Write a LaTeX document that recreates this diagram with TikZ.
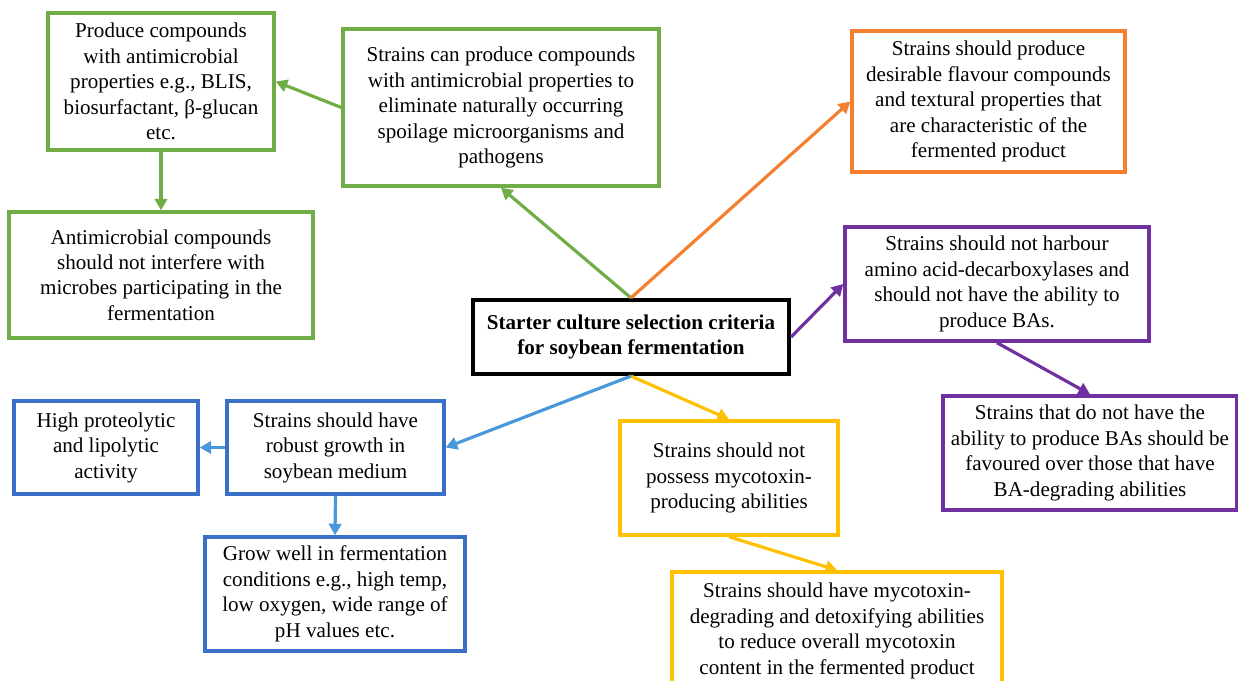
\documentclass[tikz,border=0pt]{standalone}
\usepackage{fontspec}
\setmainfont{Liberation Serif}
\usepackage{xcolor}
\usepackage{tikz}
\usetikzlibrary{arrows.meta,positioning}
\definecolor{gr}{HTML}{70AD47}
\definecolor{og}{HTML}{F47F2E}
\definecolor{pu}{HTML}{7030A0}
\definecolor{ye}{HTML}{FFC000}
\definecolor{bl}{HTML}{3A70C8}
\definecolor{bla}{HTML}{4A98DC}
\tikzset{
  box/.style={draw, line width=2pt, align=center, inner sep=2pt, font=\fontsize{12pt}{14.5pt}\selectfont},
  grbox/.style={box, draw=gr},
  ogbox/.style={box, draw=og},
  pubox/.style={box, draw=pu},
  yebox/.style={box, draw=ye},
  blbox/.style={box, draw=bl},
  link/.style={line width=1.8pt, -{Triangle[length=2.3mm,width=2.5mm]}},
}
\begin{document}
\begin{tikzpicture}[x=0.02cm,y=-0.02cm]
\useasboundingbox (0,0) rectangle (1238,680);
\clip (0,0) rectangle (1238,680);
\node[box, draw=black, line width=2.4pt, font=\fontsize{12pt}{14.5pt}\selectfont\bfseries, minimum width=6.32cm, minimum height=1.48cm] (root) at (631,337) {Starter culture selection criteria\\for soybean fermentation};
\node[grbox, minimum width=4.52cm, minimum height=2.74cm] (prod) at (161,81.5) {Produce compounds\\with antimicrobial\\properties e.g., BLIS,\\biosurfactant, β-glucan\\etc.};
\node[grbox, minimum width=6.08cm, minimum height=2.52cm] (inter) at (161,275) {Antimicrobial compounds\\should not interfere with\\microbes participating in the\\fermentation};
\node[grbox, minimum width=6.32cm, minimum height=3.14cm] (anti) at (501,107.5) {Strains can produce compounds\\with antimicrobial properties to\\eliminate naturally occurring\\spoilage microorganisms and\\pathogens};
\node[ogbox, minimum width=5.46cm, minimum height=2.82cm] (flav) at (988.5,101.5) {Strains should produce\\desirable flavour compounds\\and textural properties that\\are characteristic of the\\fermented product};
\node[pubox, minimum width=6.08cm, minimum height=2.28cm] (decarb) at (997,284) {Strains should not harbour\\amino acid-decarboxylases and\\should not have the ability to\\produce BAs.};
\node[pubox, minimum width=5.88cm, minimum height=2.28cm] (bas) at (1090,453) {Strains that do not have the\\ability to produce BAs should be\\favoured over those that have\\BA-degrading abilities};
\node[yebox, minimum width=4.36cm, minimum height=2.28cm] (myco) at (729,478) {Strains should not\\possess mycotoxin-\\producing abilities};
\node[yebox, minimum width=6.6cm, minimum height=2.36cm] (detox) at (837,631) {Strains should have mycotoxin-\\degrading and detoxifying abilities\\to reduce overall mycotoxin\\content in the fermented product};
\node[blbox, minimum width=4.34cm, minimum height=1.86cm] (grow) at (335.5,447.5) {Strains should have\\robust growth in\\soybean medium};
\node[blbox, minimum width=3.68cm, minimum height=1.86cm] (prot) at (106,447.5) {High proteolytic\\and lipolytic\\activity};
\node[blbox, minimum width=5.2cm, minimum height=2.28cm] (cond) at (335,594) {Grow well in fermentation\\conditions e.g., high temp,\\low oxygen, wide range of\\pH values etc.};
\draw[link, gr] (root.north) -- (anti.south);
\draw[link, gr] (anti.west) -- (prod.east);
\draw[link, gr] (prod.south) -- (inter.north);
\draw[link, og] (root.north) -- (flav.west);
\draw[link, pu] (root.east) -- (decarb.west);
\draw[link, pu] (decarb.south) -- (bas.north);
\draw[link, ye] (root.south) -- (myco.north);
\draw[link, ye] (myco.south) -- (detox.north);
\draw[link, bla] (root.south) -- (grow.east);
\draw[link, bla] (grow.west) -- (prot.east);
\draw[link, bla] (grow.south) -- (cond.north);
\end{tikzpicture}
\end{document}
